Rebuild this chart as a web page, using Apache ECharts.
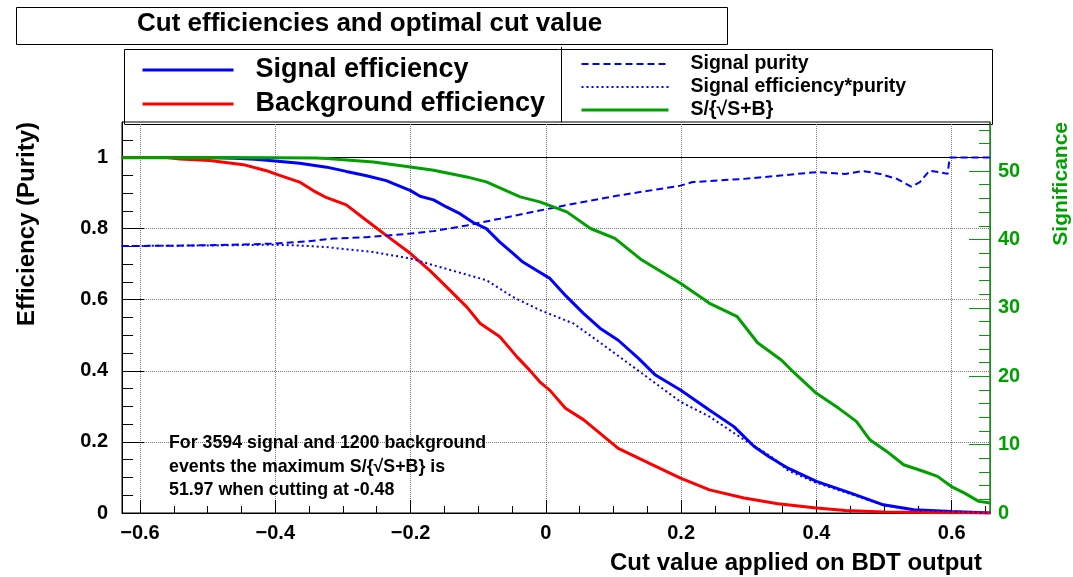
<!DOCTYPE html>
<html>
<head>
<meta charset="utf-8">
<script src="https://cdn.jsdelivr.net/npm/echarts@6/dist/echarts.min.js"></script>
<style>
html,body{margin:0;padding:0;background:#fff;}
#chart{width:1073px;height:577px;}
</style>
</head>
<body>
<div id="chart"></div>
<script>
// ---------- data ----------
const titleText = 'Cut efficiencies and optimal cut value';
const seriesNames = ['Signal efficiency', 'Background efficiency', 'Signal purity', 'Signal efficiency*purity', 'S/{√S+B}'];

const sigEffX = [-0.627,-0.50,-0.46,-0.43,-0.400,-0.364,-0.324,-0.295,-0.265,-0.236,-0.200,-0.186,-0.166,-0.147,-0.127,-0.108,-0.088,-0.068,-0.049,-0.034,-0.014,0.006,0.030,0.056,0.080,0.107,0.137,0.162,0.199,0.240,0.278,0.308,0.330,0.358,0.400,0.454,0.499,0.544,0.600,0.657];
const sigEffY = [1.000,1.000,0.998,0.995,0.990,0.984,0.973,0.961,0.949,0.935,0.907,0.891,0.881,0.861,0.842,0.818,0.800,0.762,0.731,0.706,0.683,0.660,0.610,0.561,0.520,0.486,0.435,0.388,0.346,0.292,0.243,0.187,0.158,0.126,0.089,0.054,0.023,0.009,0.004,0.000];

const bkgEffX = [-0.627,-0.560,-0.541,-0.497,-0.447,-0.413,-0.400,-0.364,-0.344,-0.324,-0.295,-0.265,-0.236,-0.200,-0.171,-0.142,-0.117,-0.097,-0.068,-0.043,-0.024,-0.009,0.006,0.029,0.056,0.107,0.157,0.199,0.242,0.293,0.343,0.400,0.443,0.500,0.600,0.657];
const bkgEffY = [1.000,1.000,0.996,0.992,0.980,0.963,0.954,0.931,0.907,0.887,0.867,0.823,0.781,0.730,0.681,0.627,0.580,0.533,0.496,0.440,0.402,0.369,0.345,0.295,0.262,0.182,0.136,0.098,0.065,0.042,0.026,0.014,0.007,0.003,0.001,0.000];

const purityX = [-0.627,-0.550,-0.480,-0.400,-0.354,-0.314,-0.265,-0.200,-0.166,-0.117,-0.068,-0.009,0.041,0.107,0.199,0.217,0.293,0.350,0.400,0.443,0.469,0.494,0.519,0.540,0.553,0.567,0.582,0.594,0.597,0.657];
const purityY = [0.751,0.752,0.754,0.758,0.764,0.772,0.776,0.786,0.793,0.809,0.828,0.851,0.870,0.893,0.921,0.931,0.940,0.950,0.959,0.954,0.962,0.954,0.940,0.918,0.931,0.963,0.959,0.954,1.000,1.000];

const effPurX = [-0.627,-0.550,-0.480,-0.400,-0.360,-0.324,-0.255,-0.200,-0.166,-0.088,-0.049,-0.009,0.041,0.092,0.142,0.199,0.242,0.293,0.333,0.358,0.400,0.454,0.499,0.544,0.600,0.657];
const effPurY = [0.751,0.752,0.753,0.755,0.752,0.748,0.734,0.716,0.697,0.655,0.608,0.571,0.533,0.463,0.393,0.313,0.271,0.206,0.159,0.120,0.085,0.051,0.022,0.008,0.004,0.000];

const signifX = [-0.627,-0.480,-0.400,-0.340,-0.324,-0.304,-0.255,-0.200,-0.166,-0.117,-0.088,-0.038,-0.009,0.031,0.066,0.102,0.142,0.199,0.242,0.283,0.313,0.348,0.363,0.400,0.433,0.459,0.479,0.504,0.529,0.559,0.579,0.599,0.619,0.640,0.657];
const signifY = [51.95,51.97,51.95,51.90,51.85,51.68,51.33,50.60,50.12,49.14,48.41,46.22,45.49,44.03,41.60,40.15,36.98,33.58,30.66,28.70,24.90,22.38,20.90,17.50,15.30,13.40,10.70,9.00,7.05,6.07,5.35,3.90,2.90,1.70,1.46];

const xMajorTicks = [-0.6,-0.4,-0.2,0,0.2,0.4,0.6];
const xMinorTicks = [-0.55,-0.5,-0.45,-0.35,-0.3,-0.25,-0.15,-0.1,-0.05,0.05,0.1,0.15,0.25,0.3,0.35,0.45,0.5,0.55,0.65];
const yMajorTicks = [0,0.2,0.4,0.6,0.8,1.0];
const yMinorTicks = [0.05,0.1,0.15,0.25,0.3,0.35,0.45,0.5,0.55,0.65,0.7,0.75,0.85,0.9,0.95,1.05];
const y2MajorTicks = [0,10,20,30,40,50];
const y2MinorTicks = [2,4,6,8,12,14,16,18,22,24,26,28,32,34,36,38,42,44,46,48,52,54,56];

const noteLines = ['For 3594 signal and 1200 background', 'events the maximum S/{√S+B} is', '51.97 when cutting at -0.48'];

// ---------- chart ----------
const FONT = 'Liberation Sans';
const GREEN = '#00a000';
const X_MIN = -0.6266, X_MAX = 0.6566;
const Y_MAX = 1.1, Y2_MAX = 57.17;

function zip(xs, ys) { return xs.map((x, i) => [x, ys[i]]); }
const fmtMinus = v => String(+v.toFixed(2)).replace('-', '\u2212');

const chart = echarts.init(document.getElementById('chart'), null, {renderer: 'canvas'});

const baseTick = {fontFamily: FONT, fontWeight: 'bold', fontSize: 20, color: '#000'};
const noLine = {show: false, onZero: false};

const option = {
  animation: false,
  backgroundColor: '#fff',
  title: {
    text: titleText, left: 137, top: 11, padding: 0,
    textStyle: {fontFamily: FONT, fontWeight: 'bold', fontSize: 26, color: '#000'}
  },
  legend: [
    {
      data: [
        {name: seriesNames[0], lineStyle: {width: 3}},
        {name: seriesNames[1], lineStyle: {width: 3}}
      ],
      orient: 'vertical', left: 141, top: 55, padding: 0,
      itemWidth: 91, itemHeight: 2, itemGap: 4, selectedMode: false,
      itemStyle: {opacity: 0}, lineStyle: {width: 3},
      textStyle: {fontFamily: FONT, fontWeight: 'bold', fontSize: 27, color: '#000', lineHeight: 30, padding: [0,0,0,17]}
    },
    {
      data: [
        {name: seriesNames[2], lineStyle: {width: 2}},
        {name: seriesNames[3], lineStyle: {width: 2}},
        {name: seriesNames[4], lineStyle: {width: 3}}
      ],
      orient: 'vertical', left: 580, top: 53, padding: 0,
      itemWidth: 87, itemHeight: 2, itemGap: 1, selectedMode: false,
      itemStyle: {opacity: 0},
      textStyle: {fontFamily: FONT, fontWeight: 'bold', fontSize: 19.5, color: '#000', lineHeight: 22, padding: [0,0,0,17]}
    }
  ],
  grid: {left: 122, right: 83, top: 122, bottom: 64, show: true, borderColor: '#000', borderWidth: 1, containLabel: false},
  xAxis: [
    {
      type: 'value', min: X_MIN, max: X_MAX, position: 'bottom',
      name: 'Cut value applied on BDT output', nameLocation: 'end', nameGap: -8,
      nameTextStyle: {fontFamily: FONT, fontWeight: 'bold', fontSize: 24, color: '#000', align: 'right', verticalAlign: 'top', padding: [38,0,0,0]},
      axisLine: {show: true, onZero: false, lineStyle: {color: '#000', width: 1}},
      axisTick: {show: true, inside: true, length: 13, customValues: xMajorTicks, lineStyle: {color: '#000', width: 1}},
      axisLabel: Object.assign({customValues: xMajorTicks, margin: 10, formatter: fmtMinus}, baseTick),
      splitLine: {show: true, lineStyle: {color: '#777', type: 'dotted', width: 1}}
    },
    {
      type: 'value', min: X_MIN, max: X_MAX, position: 'bottom',
      axisLine: noLine,
      axisTick: {show: true, inside: true, length: 7, customValues: xMinorTicks, lineStyle: {color: '#000', width: 1}},
      axisLabel: {show: false}, splitLine: {show: false}
    }
  ],
  yAxis: [
    {
      type: 'value', min: 0, max: Y_MAX, position: 'left',
      name: 'Efficiency (Purity)', nameLocation: 'end', nameRotate: 90, nameGap: 0,
      nameTextStyle: {fontFamily: FONT, fontWeight: 'bold', fontSize: 24, color: '#000', align: 'right', verticalAlign: 'bottom', padding: [0,0,83,0]},
      axisLine: {show: true, onZero: false, lineStyle: {color: '#000', width: 1}},
      axisTick: {show: true, inside: true, length: 22, customValues: yMajorTicks, lineStyle: {color: '#000', width: 1}},
      axisLabel: Object.assign({customValues: yMajorTicks, margin: 14, formatter: v => String(+v.toFixed(2))}, baseTick),
      splitLine: {show: true, lineStyle: {color: '#777', type: 'dotted', width: 1}}
    },
    {
      type: 'value', min: 0, max: Y2_MAX, position: 'right',
      name: 'Significance', nameLocation: 'end', nameRotate: 90, nameGap: 0,
      nameTextStyle: {fontFamily: FONT, fontWeight: 'bold', fontSize: 21, color: GREEN, align: 'right', verticalAlign: 'top', padding: [61,0,0,0]},
      axisLine: {show: true, onZero: false, lineStyle: {color: GREEN, width: 1}},
      axisTick: {show: true, inside: true, length: 21, customValues: y2MajorTicks, lineStyle: {color: GREEN, width: 1}},
      axisLabel: Object.assign({}, baseTick, {customValues: y2MajorTicks, margin: 8, color: GREEN}),
      splitLine: {show: false}
    },
    {
      type: 'value', min: 0, max: Y_MAX, position: 'left',
      axisLine: noLine,
      axisTick: {show: true, inside: true, length: 11, customValues: yMinorTicks, lineStyle: {color: '#000', width: 1}},
      axisLabel: {show: false}, splitLine: {show: false}
    },
    {
      type: 'value', min: 0, max: Y2_MAX, position: 'right',
      axisLine: noLine,
      axisTick: {show: true, inside: true, length: 11, customValues: y2MinorTicks, lineStyle: {color: GREEN, width: 1}},
      axisLabel: {show: false}, splitLine: {show: false}
    }
  ],
  series: [
    {
      name: seriesNames[0], type: 'line', xAxisIndex: 0, yAxisIndex: 0, symbol: 'none', smooth: false,
      data: zip(sigEffX, sigEffY), lineStyle: {color: '#0000ff', width: 3}, itemStyle: {color: '#0000ff'}, z: 3,
      markLine: {silent: true, symbol: ['none','none'], label: {show: false}, lineStyle: {color: '#000', type: 'solid', width: 1}, data: [{yAxis: 1}], z: 1}
    },
    {
      name: seriesNames[1], type: 'line', xAxisIndex: 0, yAxisIndex: 0, symbol: 'none',
      data: zip(bkgEffX, bkgEffY), lineStyle: {color: '#ff0000', width: 3}, itemStyle: {color: '#ff0000'}, z: 3
    },
    {
      name: seriesNames[2], type: 'line', xAxisIndex: 0, yAxisIndex: 0, symbol: 'none',
      data: zip(purityX, purityY), lineStyle: {color: '#0000ff', width: 2, type: [7,4]}, itemStyle: {color: '#0000ff'}, z: 3
    },
    {
      name: seriesNames[3], type: 'line', xAxisIndex: 0, yAxisIndex: 0, symbol: 'none',
      data: zip(effPurX, effPurY), lineStyle: {color: '#0000ff', width: 2, type: [2,3]}, itemStyle: {color: '#0000ff'}, z: 3
    },
    {
      name: seriesNames[4], type: 'line', xAxisIndex: 0, yAxisIndex: 1, symbol: 'none',
      data: zip(signifX, signifY), lineStyle: {color: GREEN, width: 3}, itemStyle: {color: GREEN}, z: 3
    }
  ],
  graphic: [
    {type: 'rect', left: 14, top: 5, shape: {width: 711, height: 37}, style: {fill: 'none', stroke: '#000', lineWidth: 1}, z: 0},
    {type: 'rect', left: 122, top: 47, shape: {width: 868, height: 75}, style: {fill: 'none', stroke: '#000', lineWidth: 1}, z: 0},
    {type: 'line', shape: {x1: 561.5, y1: 47, x2: 561.5, y2: 122}, style: {stroke: '#000', lineWidth: 1}, z: 0},
    {type: 'text', left: 169, top: 434.5, style: {text: noteLines[0], font: 'bold 17.8px "Liberation Sans"', fill: '#000'}, z: 10},
    {type: 'text', left: 169, top: 458, style: {text: noteLines[1], font: 'bold 17.8px "Liberation Sans"', fill: '#000'}, z: 10},
    {type: 'text', left: 169, top: 481.5, style: {text: noteLines[2], font: 'bold 17.8px "Liberation Sans"', fill: '#000'}, z: 10}
  ]
};
chart.setOption(option);
</script>
</body>
</html>
